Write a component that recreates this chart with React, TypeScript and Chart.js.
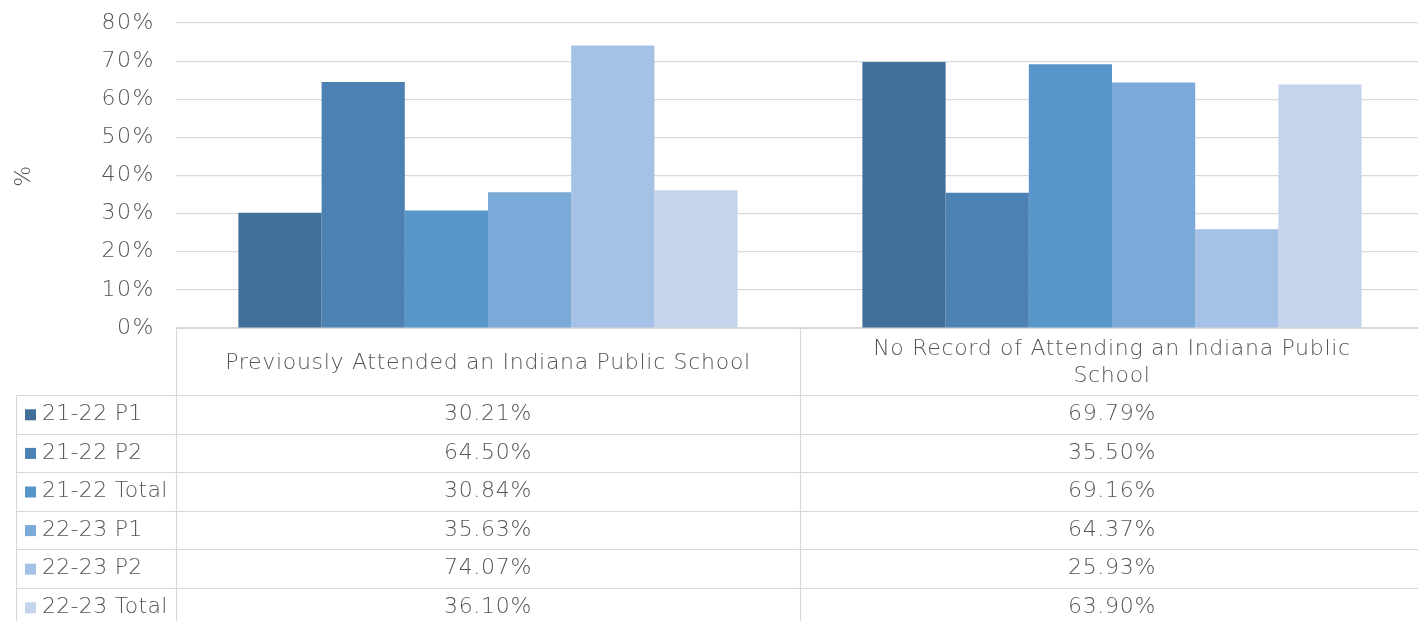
import React, { useEffect, useRef } from "react";
import { Chart, registerables } from "chart.js";

Chart.register(...registerables);

const categories: (string | string[])[] = [
  "Previously Attended an Indiana Public School",
  ["No Record of Attending an Indiana Public", "School"],
];
const seriesNames = ["21-22 P1", "21-22 P2", "21-22 Total", "22-23 P1", "22-23 P2", "22-23 Total"];
const p1_2122 = [30.21, 69.79];
const p2_2122 = [64.5, 35.5];
const total_2122 = [30.84, 69.16];
const p1_2223 = [35.63, 64.37];
const p2_2223 = [74.07, 25.93];
const total_2223 = [36.1, 63.9];
const seriesValues = [p1_2122, p2_2122, total_2122, p1_2223, p2_2223, total_2223];
const seriesColors = ["#416F99", "#4C81B3", "#5895CB", "#7BA9D8", "#A5C1E5", "#C3D4EB"];
const yTicks = [0, 10, 20, 30, 40, 50, 60, 70, 80];

const FONT = "'DejaVu Sans', sans-serif";
const FONT_SIZE = 22;
const FONT_WEIGHT = 200;
const LETTER_SPACING = "0.7px";
const TEXT_COLOR = "#555555";
const LINE_COLOR = "#D9D9D9";

const spacingPlugin = {
  id: "spacing",
  beforeDraw(chart: any) {
    chart.ctx.letterSpacing = "1.5px";
  },
};

const tablePlugin = {
  id: "dataTable",
  afterDraw(chart: any) {
    const ctx = chart.ctx;
    const area = chart.chartArea;
    const x = chart.scales.x;
    const top = area.bottom;
    const headerH = 67;
    const rowH = 38.6;
    const tableLeft = 16;
    const colLeft = area.left;
    const colW = (area.right - area.left) / categories.length;
    const bottom = top + headerH + rowH * seriesNames.length;
    ctx.save();
    ctx.letterSpacing = LETTER_SPACING;
    ctx.strokeStyle = LINE_COLOR;
    ctx.lineWidth = 1.2;
    ctx.beginPath();
    ctx.moveTo(colLeft, top + 0.5);
    ctx.lineTo(area.right, top + 0.5);
    ctx.stroke();
    for (let r = 0; r <= seriesNames.length; r++) {
      const y = Math.round(top + headerH + r * rowH) + 0.5;
      ctx.beginPath();
      ctx.moveTo(tableLeft, y);
      ctx.lineTo(area.right, y);
      ctx.stroke();
    }
    ctx.beginPath();
    ctx.moveTo(tableLeft + 0.5, top + headerH);
    ctx.lineTo(tableLeft + 0.5, bottom);
    ctx.stroke();
    for (let c = 0; c <= categories.length; c++) {
      const vx = Math.round(colLeft + c * colW) + 0.5;
      ctx.beginPath();
      ctx.moveTo(vx, top);
      ctx.lineTo(vx, bottom);
      ctx.stroke();
    }
    ctx.fillStyle = TEXT_COLOR;
    ctx.font = `${FONT_WEIGHT} ${FONT_SIZE}px ${FONT}`;
    ctx.textAlign = "center";
    ctx.textBaseline = "middle";
    categories.forEach((cat, i) => {
      const cx = x.getPixelForValue(i);
      const lines = Array.isArray(cat) ? cat : [cat];
      const lh = 27;
      const cy = top + headerH / 2 + 1.5;
      lines.forEach((ln, k) => {
        ctx.fillText(ln, cx, cy + (k - (lines.length - 1) / 2) * lh);
      });
    });
    seriesNames.forEach((name, r) => {
      const cy = top + headerH + r * rowH + rowH / 2;
      ctx.fillStyle = seriesColors[r];
      ctx.fillRect(25, cy - 5, 11, 11);
      ctx.fillStyle = TEXT_COLOR;
      ctx.textAlign = "left";
      ctx.letterSpacing = "0.3px";
      ctx.fillText(name, 42, cy);
      ctx.letterSpacing = LETTER_SPACING;
      ctx.textAlign = "center";
      seriesValues[r].forEach((v, i) => {
        const cx = x.getPixelForValue(i);
        ctx.fillText(v.toFixed(2) + "%", cx, cy);
      });
    });
    ctx.restore();
  },
};

export default function App() {
  const ref = useRef<HTMLCanvasElement>(null);
  useEffect(() => {
    if (!ref.current) return;
    const chart = new Chart(ref.current, {
      type: "bar",
      data: {
        labels: categories.map((c) => (Array.isArray(c) ? c.join(" ") : c)),
        datasets: seriesNames.map((name, i) => ({
          label: name,
          data: seriesValues[i],
          backgroundColor: seriesColors[i],
          borderWidth: 0,
          barPercentage: 1,
          categoryPercentage: 0.8,
        })),
      },
      options: {
        animation: false,
        responsive: true,
        maintainAspectRatio: false,
        layout: { padding: { top: 23, bottom: 293, left: 0, right: 0 } },
        plugins: { legend: { display: false }, tooltip: { enabled: false } },
        scales: {
          x: { display: false },
          y: {
            min: 0,
            max: 80,
            afterFit: (s: any) => {
              s.width = 176;
              s.paddingTop = 0;
              s.paddingBottom = 0;
            },
            afterBuildTicks: (s: any) => {
              s.ticks = yTicks.map((v) => ({ value: v }));
            },
            ticks: {
              padding: 21,
              color: TEXT_COLOR,
              font: { family: FONT, size: FONT_SIZE, weight: FONT_WEIGHT as any },
              callback: (v: any) => v + "%",
            },
            grid: { color: LINE_COLOR, lineWidth: 1.2, drawTicks: false },
            border: { display: false },
            title: {
              display: true,
              text: "%",
              color: TEXT_COLOR,
              font: { family: FONT, size: FONT_SIZE, weight: FONT_WEIGHT as any },
              padding: { top: 11, bottom: 0 },
            },
          },
        },
      },
      plugins: [spacingPlugin, tablePlugin],
    });
    return () => chart.destroy();
  }, []);
  return (
    <div style={{ position: "absolute", left: 0, top: 0, width: 1418, height: 621, overflow: "hidden", background: "#fff" }}>
      <div style={{ position: "relative", width: 1424, height: 621 }}>
        <canvas ref={ref} />
      </div>
    </div>
  );
}
